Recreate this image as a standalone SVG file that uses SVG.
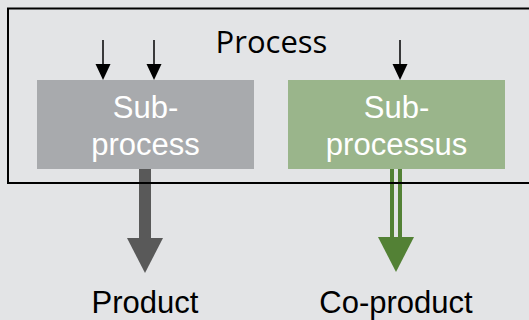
<svg xmlns="http://www.w3.org/2000/svg" width="529" height="320" viewBox="0 0 529 320">
<defs>
<style>
.lbl{font-size:31px;text-anchor:middle}
.box-t{fill:#ffffff}
.in{stroke:#000;stroke-width:1.5;fill:none}
</style>
</defs>
<rect width="529" height="320" fill="#E3E4E6"/>
<g id="connectors">
<line class="in" x1="103" y1="40" x2="103" y2="64"/>
<path d="M95.5,64 L110.5,64 L103,80 Z" fill="#000"/>
<line class="in" x1="154" y1="40" x2="154" y2="64"/>
<path d="M146.5,64 L161.5,64 L154,80 Z" fill="#000"/>
<line class="in" x1="400" y1="40" x2="400" y2="64"/>
<path d="M392.5,64 L407.5,64 L400,80 Z" fill="#000"/>
<g id="product-arrow">
<rect x="139" y="169" width="12" height="70" fill="#595959"/>
<path d="M127,238 L163,238 L145,273 Z" fill="#595959"/>
</g>
<g id="coproduct-arrow">
<rect x="390" y="169" width="4" height="69" fill="#538135"/>
<rect x="398" y="169" width="4" height="69" fill="#538135"/>
<path d="M378,237 L414,237 L396,272 Z" fill="#538135"/>
</g>
</g>
<g id="process">
<rect x="8" y="8.5" width="540" height="174.5" fill="none" stroke="#000" stroke-width="2"/>
<text x="271.5" y="53" font-family="Open Sans, Liberation Sans, sans-serif" font-size="31" text-anchor="middle" fill="#000">Process</text>
</g>
<g id="subprocess" font-family="Liberation Sans, Arial, sans-serif">
<rect x="37" y="80" width="217" height="89" fill="#A8AAAD"/>
<text class="lbl box-t" x="145.5" y="118">Sub-</text>
<text class="lbl box-t" x="145.5" y="155">process</text>
</g>
<g id="subprocessus" font-family="Liberation Sans, Arial, sans-serif">
<rect x="288" y="80" width="217" height="89" fill="#9AB58B"/>
<text class="lbl box-t" x="396.5" y="118">Sub-</text>
<text class="lbl box-t" x="396.5" y="155">processus</text>
</g>
<g id="product" font-family="Liberation Sans, Arial, sans-serif">
<text class="lbl" x="145" y="313" fill="#000">Product</text>
</g>
<g id="coproduct" font-family="Liberation Sans, Arial, sans-serif">
<text class="lbl" x="396" y="313" fill="#000">Co-product</text>
</g>
</svg>
